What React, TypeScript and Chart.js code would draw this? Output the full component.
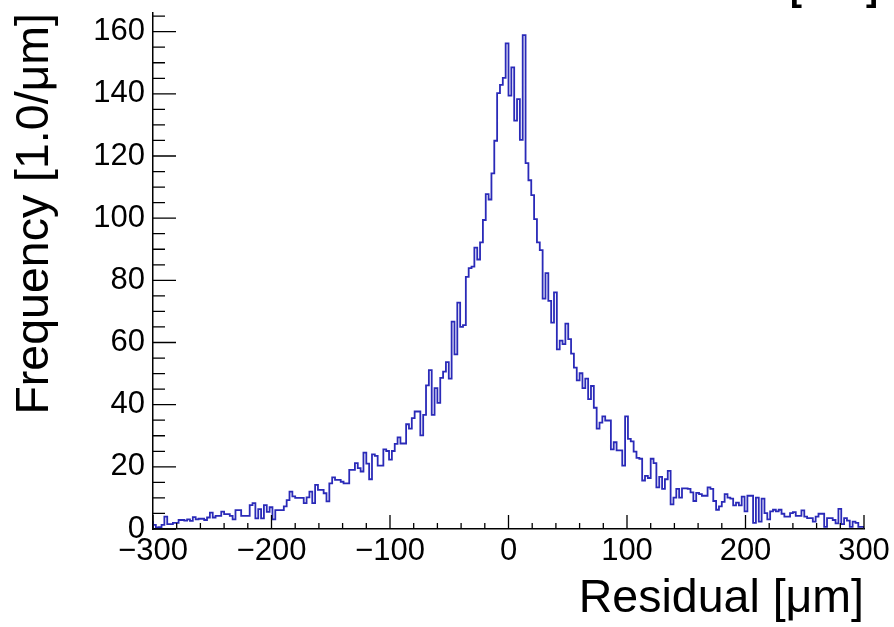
import React, { useEffect, useRef } from "react";
import { Chart, registerables } from "chart.js";

Chart.register(...registerables);

// Histogram binning
const BIN_MIN = -300;
const BIN_WIDTH = 2.4;

// Bin contents (left tail, core, right tail)
const countsLeft = [
  2.6, 1.3, 0.5, 0.6, 1.3, 4, 1.6, 1.6, 2, 2,
  2.9, 2.9, 2.7, 3.1, 2.6, 3.8, 3.1, 3.3, 3.3, 2.9,
  3.7, 5.3, 3.7, 4.2, 4.2, 5.6, 4.8, 4.8, 4.2, 3.1,
  6.1, 6.1, 4.2, 4.2, 4.2, 7.7, 8.3, 3.4, 6.4, 3.4,
  7.7, 5.5, 7, 3.1, 6.1, 6.1, 6.1, 7.3, 9.3, 12,
  10.5, 10, 10, 10, 8.3, 10.2, 12, 8.3, 14.2, 12.6,
  12.6, 11.5, 8.9, 14.7, 16.6, 15.8, 15.8, 15.2, 14.7, 14.7,
  19, 19, 21.2, 19.6, 18.5, 24.6, 21, 16, 24, 23.5,
];
const countsCore = [
  20.4, 20.4, 25.6, 25.1, 22.3, 25.1, 27.4, 29.5, 27.5, 27.5,
  33.7, 32.3, 35.7, 37.8, 37.8, 30.1, 36.7, 46.2, 51.1, 36.7,
  45.3, 40.6, 48.6, 50.6, 53.7, 48.4, 66.7, 56.2, 72.8, 65,
  65.6, 81.1, 83.9, 84.4, 90.5, 86.7, 92.2, 99.4, 107.7, 106,
  114.4, 124.9, 140.2, 142.9, 145.1, 156.2, 139.4, 148.5, 131.4, 138.3,
  125.2, 158.9, 117.7, 112.2, 107.4, 99.7, 92.2, 89.7, 74.1, 82.3,
  73.4, 66.4, 76.1, 57.8, 60.6, 59.5, 66.1, 61.1, 56.4, 51.9,
  47.8, 50.1, 45.3, 48.4, 41.8, 46, 39, 32.3, 34.2, 36.2,
  34.9, 34.9, 25.6, 27.9, 25.3, 25.3, 20.4, 36.2,
];
const countsRight = [
  29, 28.2, 24.9, 22.9, 22.6, 15.6, 17.1, 16.4, 22.6, 21.2,
  13.4, 16.8, 12.9, 16, 18.7, 7.9, 10.1, 12.9, 10.1, 13.1,
  13.1, 12.9, 11.8, 9, 11.6, 11.2, 10.7, 10.7, 13.4, 12.9,
  9, 6.2, 7.3, 8.7, 11.2, 10.1, 9.8, 7.6, 8.5, 7.6,
  10.4, 5.7, 10.7, 10.7, 2, 10.1, 2.4, 9.8, 5.1, 3.1,
  5.7, 6.2, 5.7, 6.2, 4.9, 4, 4, 5.1, 5.4, 4.2,
  4.2, 6, 4, 3.5, 3.5, 2.4, 4, 4.9, 4.9, 0.7,
  3.5, 3.5, 2.9, 1.8, 6.5, 1.6, 3.5, 2.7, 0.7, 2.4,
  2, 0.7,
];

// Axes
const X_MIN = -300;
const X_MAX = 300;
const X_MAJOR = 100;
const X_MINOR = 20;
const Y_MIN = 0;
const Y_MAX = 166;
const Y_MAJOR = 20;
const Y_MINOR = 5;
const xTickValues = [-300, -200, -100, 0, 100, 200, 300];
const yTickValues = [0, 20, 40, 60, 80, 100, 120, 140, 160];

const xAxisTitle = "Residual [\u03BCm]";
const yAxisTitle = "Frequency [1.0/\u03BCm]";
const cornerText = "[mm]";

const FONT = '"Liberation Sans", Arial, Helvetica, sans-serif';
const LINE_COLOR = "#2a2ab8";

function buildPoints() {
  const counts = [...countsLeft, ...countsCore, ...countsRight];
  const pts: { x: number; y: number }[] = [{ x: BIN_MIN, y: 0 }];
  counts.forEach((c, i) => {
    pts.push({ x: BIN_MIN + i * BIN_WIDTH, y: c });
  });
  const end = BIN_MIN + counts.length * BIN_WIDTH;
  pts.push({ x: end, y: counts[counts.length - 1] });
  pts.push({ x: end, y: 0 });
  return pts;
}

const insideTicks = {
  id: "insideTicks",
  afterDatasetsDraw(chart: any) {
    const { ctx, chartArea, scales } = chart;
    const xs = scales.x;
    const ys = scales.y;
    ctx.save();
    ctx.strokeStyle = "#000";
    ctx.lineWidth = 1.3;
    ctx.beginPath();
    for (let v = X_MIN; v <= X_MAX + 1e-9; v += X_MINOR) {
      const px = xs.getPixelForValue(v);
      const len = Math.abs(v % X_MAJOR) < 1e-9 ? 14 : 6;
      ctx.moveTo(px, chartArea.bottom);
      ctx.lineTo(px, chartArea.bottom - len);
    }
    for (let v = Y_MIN; v <= Y_MAX + 1e-9; v += Y_MINOR) {
      const py = ys.getPixelForValue(v);
      const len = Math.abs(v % Y_MAJOR) < 1e-9 ? 23 : 12;
      ctx.moveTo(chartArea.left, py);
      ctx.lineTo(chartArea.left + len, py);
    }
    ctx.stroke();
    ctx.font = "bold 36px " + FONT;
    ctx.textBaseline = "alphabetic";
    ctx.textAlign = "left";
    ctx.fillStyle = "#000";
    ctx.fillText(cornerText, 790, 0);
    ctx.restore();
  },
};

function fmt(v: number) {
  return v < 0 ? "\u2212" + Math.abs(v) : String(v);
}

export default function App() {
  const ref = useRef<HTMLCanvasElement | null>(null);
  useEffect(() => {
    if (!ref.current) return;
    const chart = new Chart(ref.current, {
      type: "line",
      data: {
        datasets: [
          {
            data: buildPoints(),
            stepped: "after",
            borderColor: LINE_COLOR,
            borderWidth: 1.8,
            pointRadius: 0,
            fill: false,
            tension: 0,
          } as any,
        ],
      },
      options: {
        responsive: false,
        animation: false,
        layout: { padding: { top: 13, right: 30, left: 0, bottom: 0 } },
        plugins: { legend: { display: false }, tooltip: { enabled: false } },
        scales: {
          x: {
            type: "linear",
            min: X_MIN,
            max: X_MAX,
            grid: { display: false, drawTicks: false },
            border: { display: true, color: "#000", width: 1.5 },
            ticks: {
              padding: 4,
              color: "#000",
              maxRotation: 0,
              autoSkip: false,
              font: { family: FONT, size: 31 },
              callback: (v: any) => fmt(Number(v)),
            },
            afterBuildTicks: (s: any) => {
              s.ticks = xTickValues.map((v) => ({ value: v }));
            },
            title: {
              display: true,
              text: xAxisTitle,
              align: "end",
              color: "#000",
              font: { family: FONT, size: 46.5, lineHeight: 1 },
              padding: { top: 0, bottom: 5 },
            },
            afterFit: (s: any) => {
              s.height = 98;
              s.paddingLeft = 0;
              s.paddingRight = 0;
            },
          },
          y: {
            type: "linear",
            min: Y_MIN,
            max: Y_MAX,
            grid: { display: false, drawTicks: false },
            border: { display: true, color: "#000", width: 1.5 },
            ticks: {
              padding: 8,
              color: "#000",
              font: { family: FONT, size: 31 },
              callback: (v: any) => fmt(Number(v)),
            },
            afterBuildTicks: (s: any) => {
              s.ticks = yTickValues.map((v) => ({ value: v }));
            },
            title: {
              display: true,
              text: yAxisTitle,
              align: "end",
              color: "#000",
              font: { family: FONT, size: 46.5, lineHeight: 1 },
              padding: { top: 12, bottom: 0 },
            },
            afterFit: (s: any) => {
              s.width = 153;
              s.paddingTop = 0;
              s.paddingBottom = 0;
            },
          },
        },
      } as any,
      plugins: [insideTicks],
    });
    return () => chart.destroy();
  }, []);
  return (
    <div style={{ position: "absolute", left: 0, top: 0, width: 894, height: 627, background: "#fff" }}>
      <canvas ref={ref} width={894} height={627} style={{ display: "block" }} />
    </div>
  );
}
